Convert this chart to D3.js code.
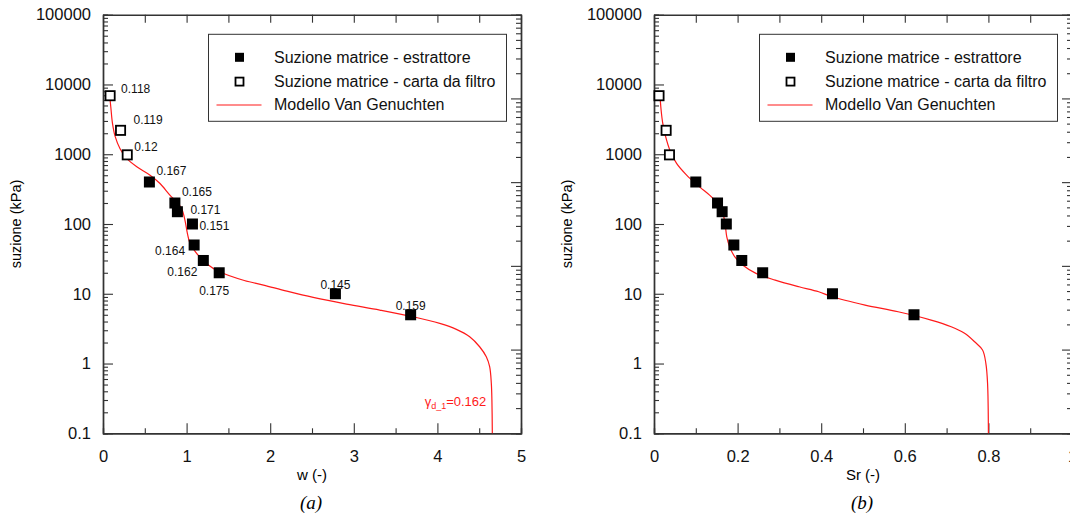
<!DOCTYPE html>
<html>
<head>
<meta charset="utf-8">
<script src="https://cdn.jsdelivr.net/npm/d3@7"></script>
<style>
  body { margin: 0; background: #fff; }
  text { font-family: "Liberation Sans", Arial, sans-serif; }
</style>
</head>
<body>
<svg id="chart" width="1070" height="517"></svg>
<script>
// suction (kPa) of the measured points
const suctionFilled = [400, 200, 150, 100, 50, 30, 20, 10, 5];
const suctionOpen = [6900, 2200, 980];

// water content w (-) and degree of saturation Sr (-)
const wFilled = [0.555, 0.86, 0.89, 1.07, 1.09, 1.2, 1.39, 2.78, 3.68];
const wOpen = [0.085, 0.21, 0.29];
const srFilled = [0.10, 0.152, 0.163, 0.173, 0.191, 0.21, 0.26, 0.427, 0.622];
const srOpen = [0.012, 0.029, 0.037];

// dry unit weight labels next to the points (panel a)
const gammaFilled = ["0.167", "0.165", "0.171", "0.151", "0.164", "0.162", "0.175", "0.145", "0.159"];
const gammaOpen = ["0.118", "0.119", "0.12"];

// Van Genuchten curve: [w, suction]
const vgW = [[0.077,7400],[0.093,4800],[0.113,2800],[0.145,1800],[0.204,1200],[0.284,870],[0.404,660],
  [0.563,500],[0.682,380],[0.80,260],[0.88,208],[0.94,167],[0.98,114],[1.01,73],[1.04,53],[1.12,38],
  [1.24,27],[1.40,20.5],[1.69,15.5],[1.92,13.3],[2.2,10.9],[2.514,8.87],[2.913,7.1],[3.311,5.83],
  [3.709,4.68],[4.028,3.76],[4.227,3.09],[4.386,2.42],[4.505,1.74],[4.585,1.25],[4.625,0.90],
  [4.645,0.52],[4.652,0.30],[4.657,0.1]];
// same curve against Sr: [Sr, suction]
const vgSr = [[0.014,7400],[0.017,4300],[0.021,2760],[0.028,1775],[0.038,1146],[0.054,738],[0.078,502],
  [0.109,341],[0.133,259],[0.149,208],[0.161,167],[0.167,127],[0.171,91],[0.174,66],[0.181,47],
  [0.193,34],[0.212,25.8],[0.244,19.6],[0.29,15.7],[0.347,12.6],[0.394,10.7],[0.426,9.06],[0.505,6.89],
  [0.584,5.52],[0.663,4.2],[0.711,3.37],[0.743,2.71],[0.767,2.05],[0.786,1.56],[0.794,1.0],
  [0.798,0.52],[0.800,0.1]];

const yTicks = [0.1, 1, 10, 100, 1000, 10000, 100000];
const legendLabels = ["Suzione matrice - estrattore", "Suzione matrice - carta da filtro", "Modello Van Genuchten"];

// label placement for the gamma values: [dx, dy, anchor]
const offFilled = [[7,-7,"start"],[7,-7,"start"],[13,2,"start"],[7,6,"start"],[-9,10,"end"],
  [-6,16,"end"],[-5,22,"middle"],[0,-5,"middle"],[0,-5,"middle"]];
const offOpen = [[11,-3,"start"],[13,-6,"start"],[7,-4,"start"]];

const svg = d3.select("#chart");
svg.append("rect").attr("width", 1070).attr("height", 517).attr("fill", "#fff");

const plotTop = 14.7, plotBottom = 433.3, pw = 418;

function minorLog(lo, hi) {
    let out = [];
    for (let e = lo; e < hi; e++)
        for (let m = 2; m <= 9; m++) out.push(m * Math.pow(10, e));
    return out;
}

function drawPanel(opt) {
    const g = svg.append("g");
    const x = d3.scaleLinear().domain(opt.xDomain).range([opt.left, opt.left + pw]);
    const y = d3.scaleLog().domain([0.1, 100000]).range([plotBottom, plotTop]);
    // unlabeled secondary scale on the right (5 decades)
    const y2 = d3.scaleLog().domain([1, 100000]).range([plotBottom, plotTop]);

    // left axis
    const ax = g.append("g").attr("transform", `translate(${opt.left},0)`);
    ax.call(d3.axisLeft(y).tickValues(yTicks).tickFormat(d3.format("")).tickSizeInner(-10).tickSizeOuter(0).tickPadding(12));
    ax.append("g").call(d3.axisLeft(y).tickValues(minorLog(-1, 5)).tickFormat("").tickSize(-5));
    ax.selectAll("text").attr("font-size", 16.5).attr("fill", "#111");

    // right axis
    const ar = g.append("g").attr("transform", `translate(${opt.left + pw},0)`);
    ar.call(d3.axisRight(y2).tickValues([1, 10, 100, 1000, 10000, 100000]).tickFormat("").tickSizeInner(-10).tickSizeOuter(0));
    ar.append("g").call(d3.axisRight(y2).tickValues(minorLog(0, 5)).tickFormat("").tickSize(-5));

    // bottom axis
    const ab = g.append("g").attr("transform", `translate(0,${plotBottom})`);
    ab.call(d3.axisBottom(x).tickValues(opt.xMajor).tickFormat(d3.format("")).tickSizeInner(-10).tickSizeOuter(0).tickPadding(17));
    ab.append("g").call(d3.axisBottom(x).tickValues(opt.xMinor).tickFormat("").tickSize(-5));
    ab.selectAll("text").attr("font-size", 16.5).attr("fill", "#111");

    // top axis
    const at = g.append("g").attr("transform", `translate(0,${plotTop})`);
    at.call(d3.axisTop(x).tickValues(opt.xMajor.concat(opt.xMinor)).tickFormat("").tickSizeInner(-8).tickSizeOuter(0));

    g.selectAll(".domain").attr("stroke", "#333").attr("stroke-width", 1.4);
    g.selectAll(".tick line").attr("stroke", "#333").attr("stroke-width", 1.1);

    // axis titles
    g.append("text").attr("x", opt.left + pw / 2).attr("y", 480)
        .attr("text-anchor", "middle").attr("font-size", 15).text(opt.xTitle);
    g.append("text").attr("transform", `translate(${opt.left - 82},${(plotTop + plotBottom) / 2}) rotate(-90)`)
        .attr("text-anchor", "middle").attr("font-size", 14.5).text("suzione (kPa)");
    g.append("text").attr("x", opt.left + pw / 2 - 1).attr("y", 509)
        .attr("text-anchor", "middle").attr("font-size", 19).attr("font-style", "italic")
        .style("font-family", "'Liberation Serif', 'Times New Roman', serif").text(opt.caption);

    // Van Genuchten curve
    const line = d3.line().x(d => x(d[0])).y(d => y(d[1])).curve(d3.curveCatmullRom.alpha(0.5));
    g.append("path").datum(opt.curve).attr("d", line)
        .attr("fill", "none").attr("stroke", "#ff1a1a").attr("stroke-width", 1.2);

    // points
    const filled = opt.xFilled.map((v, i) => ({x: v, s: suctionFilled[i]}));
    const open = opt.xOpen.map((v, i) => ({x: v, s: suctionOpen[i]}));
    g.selectAll(null).data(filled).join("rect")
        .attr("x", d => x(d.x) - 5.5).attr("y", d => y(d.s) - 5.5)
        .attr("width", 11).attr("height", 11).attr("fill", "#000");
    g.selectAll(null).data(open).join("rect")
        .attr("x", d => x(d.x) - 4.6).attr("y", d => y(d.s) - 4.6)
        .attr("width", 9.2).attr("height", 9.2).attr("fill", "#fff")
        .attr("stroke", "#000").attr("stroke-width", 1.8);

    if (opt.labels) {
        const lab = filled.map((d, i) => ({...d, t: gammaFilled[i], o: offFilled[i]}))
            .concat(open.map((d, i) => ({...d, t: gammaOpen[i], o: offOpen[i]})));
        g.selectAll(null).data(lab).join("text")
            .attr("x", d => x(d.x) + d.o[0]).attr("y", d => y(d.s) + d.o[1])
            .attr("text-anchor", d => d.o[2]).attr("font-size", 12).attr("fill", "#111")
            .text(d => d.t);

        const last = opt.curve[opt.curve.length - 1];
        const gt = g.append("text").attr("x", x(last[0]) - 6).attr("y", y(0.25))
            .attr("text-anchor", "end").attr("font-size", 13).attr("fill", "#ff1a1a");
        gt.append("tspan").text("γ");
        gt.append("tspan").attr("font-size", 9).attr("dy", 3).text("d_1");
        gt.append("tspan").attr("dy", -3).text("=0.162");
    }

    // legend
    const lg = g.append("g").attr("transform", `translate(${opt.left + 105.5},34.3)`);
    lg.append("rect").attr("width", 298).attr("height", 87)
        .attr("fill", "#fff").attr("stroke", "#333").attr("stroke-width", 1);
    const rows = [23, 47.3, 70.7];
    lg.append("rect").attr("x", 31 - 4.5).attr("y", rows[0] - 4.5).attr("width", 9).attr("height", 9).attr("fill", "#000");
    lg.append("rect").attr("x", 31 - 4).attr("y", rows[1] - 4).attr("width", 8).attr("height", 8)
        .attr("fill", "#fff").attr("stroke", "#000").attr("stroke-width", 1.8);
    lg.append("line").attr("x1", 8).attr("x2", 53).attr("y1", rows[2]).attr("y2", rows[2])
        .attr("stroke", "#ff1a1a").attr("stroke-width", 1.2);
    lg.selectAll(null).data(legendLabels).join("text")
        .attr("x", 65.5).attr("y", (d, i) => rows[i] + 5.5)
        .attr("font-size", 16).attr("fill", "#111").text(d => d);
}

drawPanel({
    left: 103, xDomain: [0, 5], xMajor: [0, 1, 2, 3, 4, 5], xMinor: [0.5, 1.5, 2.5, 3.5, 4.5],
    xTitle: "w (-)", caption: "(a)", curve: vgW, xFilled: wFilled, xOpen: wOpen, labels: true
});
drawPanel({
    left: 654, xDomain: [0, 1], xMajor: [0, 0.2, 0.4, 0.6, 0.8, 1], xMinor: [0.1, 0.3, 0.5, 0.7, 0.9],
    xTitle: "Sr (-)", caption: "(b)", curve: vgSr, xFilled: srFilled, xOpen: srOpen, labels: false
});
</script>
</body>
</html>
